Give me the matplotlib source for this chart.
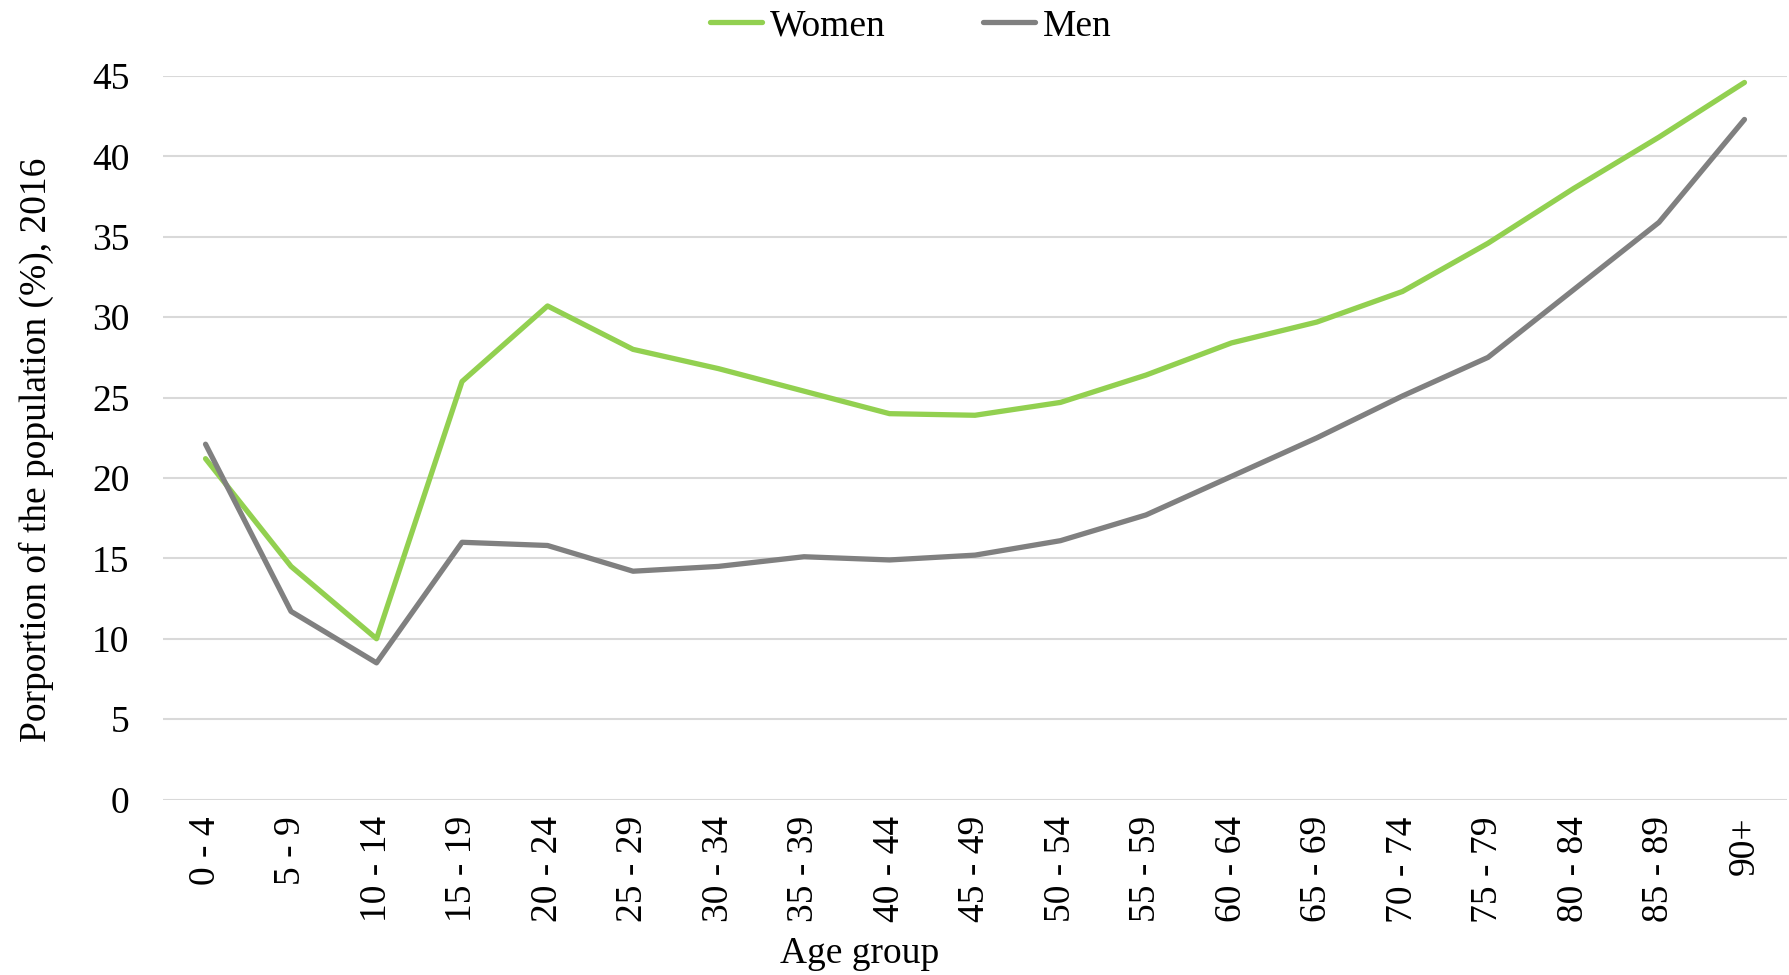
import matplotlib
matplotlib.use("Agg")
from matplotlib import pyplot as plt

# Age groups and shares (%)
age_groups = ["0 - 4", "5 - 9", "10 - 14", "15 - 19", "20 - 24", "25 - 29", "30 - 34",
              "35 - 39", "40 - 44", "45 - 49", "50 - 54", "55 - 59", "60 - 64", "65 - 69",
              "70 - 74", "75 - 79", "80 - 84", "85 - 89", "90+"]
women = [21.2, 14.5, 10.0, 26.0, 30.7, 28.0, 26.8, 25.4, 24.0, 23.9, 24.7, 26.4, 28.4,
         29.7, 31.6, 34.6, 38.0, 41.2, 44.6]
men = [22.1, 11.7, 8.5, 16.0, 15.8, 14.2, 14.5, 15.1, 14.9, 15.2, 16.1, 17.7, 20.1,
       22.5, 25.1, 27.5, 31.7, 35.9, 42.3]
y_ticks = [0, 5, 10, 15, 20, 25, 30, 35, 40, 45]

plt.rcParams['font.family'] = ['Liberation Serif', 'DejaVu Serif']

fig = plt.figure(figsize=(17.89, 9.75), dpi=100)
ax = fig.add_axes([0.091, 0.18, 0.908, 0.742])

x = list(range(len(age_groups)))
ax.plot(x, women, color='#92D050', linewidth=3.8, label='Women', solid_capstyle='round')
ax.plot(x, men, color='#808080', linewidth=3.8, label='Men', solid_capstyle='round')

ax.set_xlim(-0.5, len(age_groups) - 0.5)
ax.set_ylim(0, 45)
ax.set_yticks(y_ticks)
ax.set_xticks(x)
ax.set_xticklabels(age_groups, rotation=90, fontsize=27)
ax.tick_params(axis='y', labelsize=27, length=0, pad=24)
ax.tick_params(axis='x', length=0, pad=12)
ax.grid(axis='y', color='#D9D9D9', linewidth=1.5)
ax.set_axisbelow(True)
for s in ax.spines.values():
    s.set_visible(False)

ax.set_xlabel("Age group", fontsize=27)
ax.xaxis.set_label_coords(0.429, -0.19)
ax.set_ylabel("Porportion of the population (%), 2016", fontsize=27)
ax.yaxis.set_label_coords(-0.067, 0.483)

fig.legend(loc='center', bbox_to_anchor=(0.509, 0.973), ncol=2, frameon=False,
           fontsize=27, handlelength=1.4, handletextpad=0.2, columnspacing=2.6)

fig.savefig("out.png", dpi=100)
